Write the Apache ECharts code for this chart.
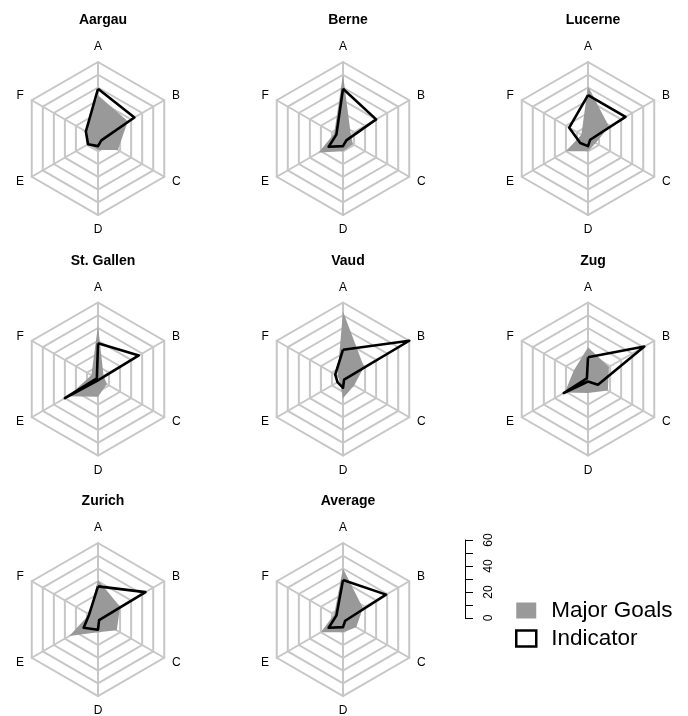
<!DOCTYPE html>
<html>
<head>
<meta charset="utf-8">
<script src="https://cdn.jsdelivr.net/npm/echarts@6/dist/echarts.min.js"></script>
<style>html,body{margin:0;padding:0;background:#fff}#c{width:688px;height:716px}</style>
</head>
<body>
<div id="c"></div>
<script>
// ---- data ----
const categories = ['A', 'B', 'C', 'D', 'E', 'F'];
const regions = ['Aargau', 'Berne', 'Lucerne', 'St. Gallen', 'Vaud', 'Zug', 'Zurich', 'Average'];
const seriesNames = ['Major Goals', 'Indicator'];
const scaleTicks = [0, 20, 40, 60];
const scaleMax = 60;

// Major Goals values per region (A..F)
const goalsAargau    = [34, 27, 18, 9, 9, 12];
const goalsBerne     = [50, 7, 9, 10, 22, 8];
const goalsLucerne   = [41, 19, 7, 10, 20, 6];
const goalsStGallen  = [42, 5, 8, 14, 27, 6];
const goalsVaud      = [53, 19, 10, 15, 3, 5];
const goalsZug       = [25, 19, 18, 11, 21, 13];
const goalsZurich    = [31, 20, 17, 10, 26, 8];
const goalsAverage   = [40, 18, 12, 10, 20, 8];

// Indicator values per region (A..F)
const indAargau    = [39, 33, 3, 6, 9, 11];
const indBerne     = [39, 30, 3, 6, 13, 6];
const indLucerne   = [34, 34, 2, 6, 7, 17];
const indStGallen  = [28, 37, 1, 1, 30, 1];
const indVaud      = [23, 60, 1, 7, 5, 7];
const indZug       = [17, 51, 9, 2, 22, 1];
const indZurich    = [26, 43, 1, 8, 13, 8];
const indAverage   = [31, 39, 2, 6, 13, 6];

const goalsData = [goalsAargau, goalsBerne, goalsLucerne, goalsStGallen, goalsVaud, goalsZug, goalsZurich, goalsAverage];
const indData = [indAargau, indBerne, indLucerne, indStGallen, indVaud, indZug, indZurich, indAverage];

// ---- layout ----
const colX = [98, 343, 588];
const rowY = [138.5, 379, 619.5];
const R = 76.5;
const FONT = '"Liberation Sans", Arial, sans-serif';
const gridColor = '#c6c6c6';
// ECharts places indicators counter-clockwise; reorder so A,B,C.. run clockwise
const order = [0, 5, 4, 3, 2, 1];

const radars = regions.map((r, i) => ({
  center: [colX[i % 3], rowY[Math.floor(i / 3)]],
  radius: R,
  startAngle: 90,
  splitNumber: 6,
  shape: 'polygon',
  nameGap: 9,
  indicator: order.map(k => ({ name: categories[k], min: 0, max: scaleMax })),
  axisName: { color: '#000', fontSize: 12, fontFamily: FONT },
  axisLine: { lineStyle: { color: gridColor, width: 2 } },
  splitLine: { lineStyle: { color: gridColor, width: 2 } },
  splitArea: { show: false }
}));

const titles = regions.map((r, i) => ({
  text: r,
  left: colX[i % 3],
  top: rowY[Math.floor(i / 3)] - 130,
  textAlign: 'center',
  textStyle: { fontSize: 14, fontWeight: 'bold', color: '#000', fontFamily: FONT }
}));

const series = [];
regions.forEach((r, i) => {
  series.push({
    type: 'radar', radarIndex: i, name: seriesNames[0], symbol: 'none', silent: true,
    lineStyle: { width: 0, color: '#999999' },
    itemStyle: { color: '#999999' },
    areaStyle: { color: '#999999', opacity: 1 },
    data: [{ value: order.map(k => goalsData[i][k]), name: seriesNames[0] }],
    z: 2
  });
  series.push({
    type: 'radar', radarIndex: i, name: seriesNames[1], symbol: 'none', silent: true,
    lineStyle: { width: 2.6, color: '#000' },
    itemStyle: { color: '#000' },
    data: [{ value: order.map(k => indData[i][k]), name: seriesNames[1] }],
    z: 3
  });
});

const option = {
  backgroundColor: '#fff',
  animation: false,
  title: titles,
  radar: radars,
  grid: { left: 465, top: 540, width: 1, height: 78 },
  xAxis: { type: 'value', show: false, min: 0, max: 1 },
  yAxis: {
    type: 'value', min: 0, max: scaleMax, interval: 10,
    axisLine: { show: true, lineStyle: { color: '#000', width: 1 } },
    axisTick: { show: true, inside: true, length: 8, lineStyle: { color: '#000', width: 1 } },
    axisLabel: {
      inside: true, rotate: 90, margin: 18, interval: 0, color: '#000', fontSize: 12, fontFamily: FONT,
      formatter: v => scaleTicks.indexOf(v) >= 0 ? String(v) : ''
    },
    splitLine: { show: false }
  },
  legend: {
    orient: 'vertical', left: 510, top: 594, itemWidth: 20, itemHeight: 16, itemGap: 5,
    icon: 'rect', selectedMode: false,
    textStyle: { fontSize: 22.5, lineHeight: 22, color: '#000', fontFamily: FONT, padding: [0, 0, 0, 10] },
    data: [
      { name: seriesNames[0], itemStyle: { color: '#999999', borderWidth: 0 } },
      { name: seriesNames[1], itemStyle: { color: '#fff', borderColor: '#000', borderWidth: 2.5 } }
    ]
  },
  series: series
};

echarts.init(document.getElementById('c'), null, { renderer: 'canvas' }).setOption(option);
</script>
</body>
</html>
